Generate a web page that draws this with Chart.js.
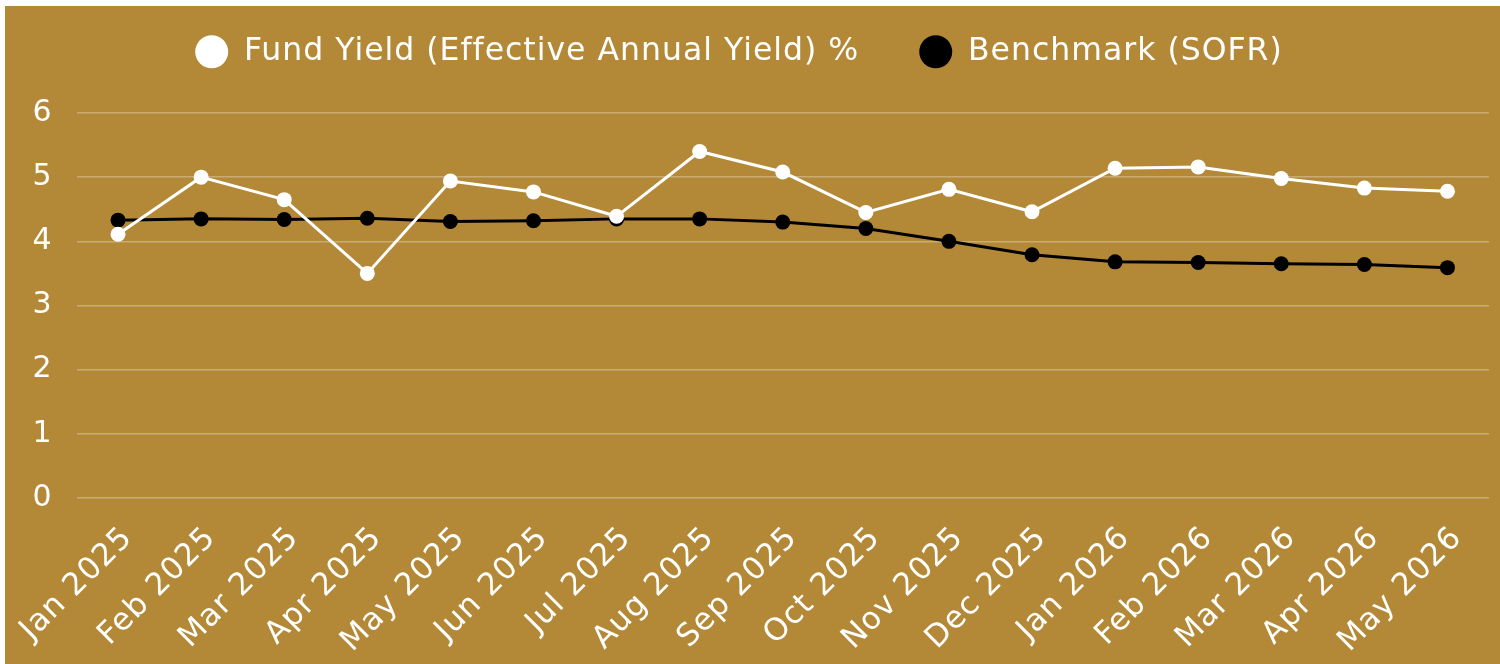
<!DOCTYPE html>
<html>
<head>
<meta charset="utf-8">
<script src="https://cdn.jsdelivr.net/npm/chart.js@4"></script>
<style>
  html, body { margin: 0; padding: 0; background: #ffffff; }
  #wrap { position: absolute; left: 5px; top: 6px; width: 1495px; height: 658px; background: #B38937; }
</style>
</head>
<body>
<div id="wrap"><canvas id="c"></canvas></div>
<script>
const categories = ['Jan 2025','Feb 2025','Mar 2025','Apr 2025','May 2025','Jun 2025','Jul 2025','Aug 2025','Sep 2025','Oct 2025','Nov 2025','Dec 2025','Jan 2026','Feb 2026','Mar 2026','Apr 2026','May 2026'];
const fundYield = [4.11, 5.00, 4.65, 3.50, 4.94, 4.77, 4.39, 5.40, 5.08, 4.45, 4.81, 4.46, 5.14, 5.16, 4.98, 4.83, 4.78];
const benchmark = [4.33, 4.35, 4.34, 4.36, 4.31, 4.32, 4.35, 4.35, 4.30, 4.20, 4.00, 3.79, 3.68, 3.67, 3.65, 3.64, 3.59];
const seriesNames = ['Fund Yield (Effective Annual Yield) %', 'Benchmark (SOFR)'];
const yTicks = [0, 1, 2, 3, 4, 5, 6];

const FONT = '"DejaVu Sans", sans-serif';

const spacing = {
  id: 'spacing',
  beforeUpdate(chart) { chart.ctx.letterSpacing = '1px'; },
  beforeLayout(chart) { chart.ctx.letterSpacing = '1px'; },
  beforeDraw(chart) { chart.ctx.letterSpacing = '1px'; }
};

const legendSpace = {
  id: 'legendSpace',
  beforeInit(chart) {
    const lg = chart.legend;
    if (!lg) return;
    const fit = lg.fit;
    lg.fit = function () {
      fit.call(this);
      this.height = 137;
      if (this.lineWidths && this.lineWidths.length) this.lineWidths[0] += 16;
    };
  }
};

new Chart(document.getElementById('c'), {
  type: 'line',
  data: {
    labels: categories,
    datasets: [
      { label: seriesNames[0], data: fundYield, borderColor: '#ffffff', backgroundColor: '#ffffff',
        borderWidth: 3, pointRadius: 7.5, pointHoverRadius: 7.5, pointBorderWidth: 0, tension: 0 },
      { label: seriesNames[1], data: benchmark, borderColor: '#000000', backgroundColor: '#000000',
        borderWidth: 3, pointRadius: 7.5, pointHoverRadius: 7.5, pointBorderWidth: 0, tension: 0 }
    ]
  },
  options: {
    responsive: true,
    maintainAspectRatio: false,
    animation: false,
    layout: { padding: { top: -30, right: 11, bottom: 0, left: 0 } },
    plugins: {
      legend: {
        position: 'top',
        labels: {
          color: '#ffffff',
          font: { family: FONT, size: 31.5 },
          usePointStyle: true,
          pointStyle: 'circle',
          pointStyleWidth: 33,
          boxHeight: 23.3,
          padding: 60,
          generateLabels(chart) {
            const items = Chart.defaults.plugins.legend.labels.generateLabels(chart);
            items.forEach(it => { it.lineWidth = 0; });
            return items;
          }
        }
      },
      tooltip: { enabled: false }
    },
    scales: {
      x: {
        offset: true,
        grid: { display: false },
        border: { display: false },
        ticks: {
          color: '#ffffff',
          font: { family: FONT, size: 31 },
          maxRotation: 45, minRotation: 45,
          autoSkip: false, padding: 14, labelOffset: 10
        },
        afterFit(s) { s.height = 166; s.paddingLeft = 0; s.paddingRight = 0; }
      },
      y: {
        min: 0, max: 6,
        afterBuildTicks(s) { s.ticks = yTicks.map(v => ({ value: v })); },
        grid: { color: 'rgba(255,255,255,0.3)', lineWidth: 1.5, drawTicks: false },
        border: { display: false },
        ticks: {
          color: '#ffffff',
          font: { family: FONT, size: 30 },
          padding: 24
        },
        afterFit(s) { s.width = 71.5; }
      }
    }
  },
  plugins: [spacing, legendSpace]
});
</script>
</body>
</html>
